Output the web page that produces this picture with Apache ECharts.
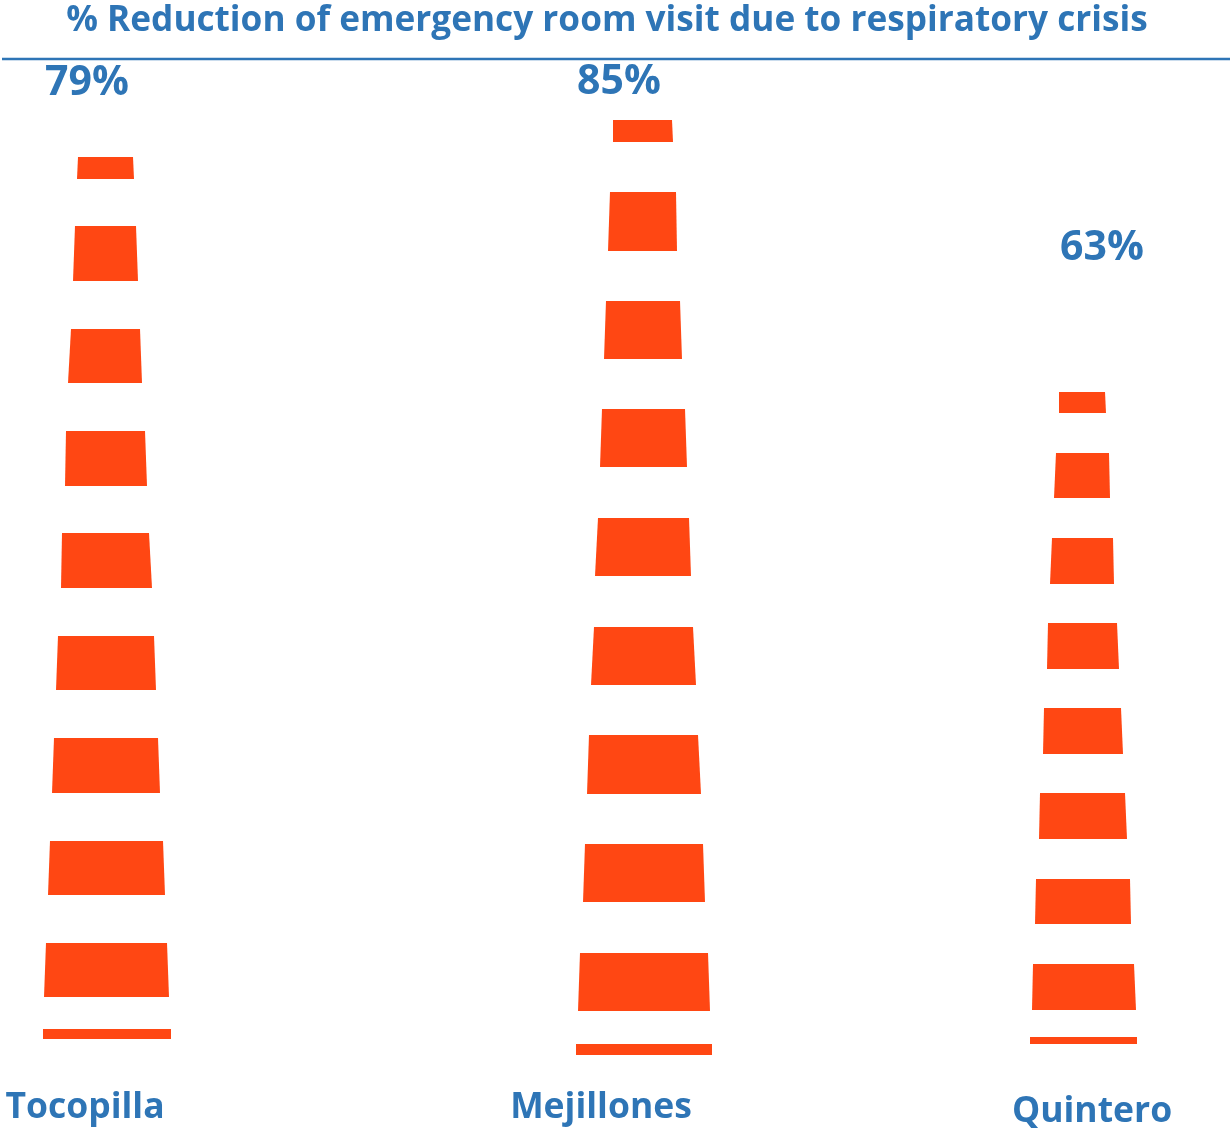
<!DOCTYPE html>
<html>
<head>
<meta charset="utf-8">
<style>html,body{margin:0;padding:0;background:#fff}#c{width:1230px;height:1129px}</style>
<script src="https://cdn.jsdelivr.net/npm/echarts@6/dist/echarts.min.js"></script>
</head>
<body>
<div id="c"></div>
<script>
const titleText = '% Reduction of emergency room visit due to respiratory crisis';
const cities = ['Tocopilla', 'Mejillones', 'Quintero'];
const reductions = [79, 85, 63];

// each band of a cone: [upper level, lower level, upper left, upper right, lower left, lower right]
const tocopillaBands = [
  [157, 179, 78, 133, 77, 134],
  [226, 281, 75, 136, 73, 138],
  [329, 383, 71, 140, 68, 142],
  [431, 486, 66, 145, 65, 147],
  [533, 588, 62, 149, 61, 152],
  [636, 690, 58, 154, 56, 156],
  [738, 793, 54, 158, 52, 160],
  [841, 895, 50, 163, 48, 165],
  [943, 997, 46, 167, 44, 169],
  [1029, 1039, 43, 171, 43, 171]
];
const mejillonesBands = [
  [120, 142, 613, 672, 613, 673],
  [192, 251, 610, 676, 608, 677],
  [301, 359, 606, 680, 604, 682],
  [409, 467, 602, 685, 600, 687],
  [518, 576, 598, 689, 595, 691],
  [627, 685, 594, 693, 591, 696],
  [735, 794, 589, 698, 587, 701],
  [844, 902, 585, 703, 583, 705],
  [953, 1011, 580, 708, 578, 710],
  [1044, 1055, 576, 712, 576, 712]
];
const quinteroBands = [
  [392, 413, 1059, 1105, 1059, 1106],
  [453, 498, 1056, 1109, 1054, 1110],
  [538, 584, 1052, 1113, 1050, 1114],
  [623, 669, 1048, 1117, 1047, 1119],
  [708, 754, 1044, 1121, 1043, 1123],
  [793, 839, 1040, 1125, 1039, 1127],
  [879, 924, 1036, 1130, 1035, 1131],
  [964, 1010, 1033, 1134, 1032, 1136],
  [1037, 1044, 1030, 1137, 1030, 1137]
];

const BLUE = '#2E75B6';
const ORANGE = '#FF4713';
const FONT = '"Open Sans", Lato, sans-serif';
const percentAnchors = [[87, 83], [619, 82], [1102, 248]];
const cityAnchors = [[85, 1108], [601, 1108], [1092, 1112]];

function bandSeries(name, data) {
  return {
    type: 'custom',
    name: name,
    coordinateSystem: 'cartesian2d',
    silent: true,
    encode: { x: [2, 3, 4, 5], y: [0, 1] },
    data: data,
    renderItem: function (params, api) {
      const top = api.value(0), bottom = api.value(1);
      const pts = [
        api.coord([api.value(2), top]),
        api.coord([api.value(3), top]),
        api.coord([api.value(5), bottom]),
        api.coord([api.value(4), bottom])
      ];
      return { type: 'polygon', shape: { points: pts }, style: { fill: ORANGE, stroke: null } };
    }
  };
}

function textEl(text, pos, size) {
  return {
    type: 'text', x: pos[0], y: pos[1],
    style: { text: text, fill: BLUE, font: 'bold ' + size + 'px ' + FONT, textAlign: 'center', textVerticalAlign: 'middle' }
  };
}

const chart = echarts.init(document.getElementById('c'), null, { renderer: 'canvas', width: 1230, height: 1129 });
chart.setOption({
  animation: false,
  backgroundColor: '#fff',
  grid: { left: 0, right: 0, top: 0, bottom: 0 },
  xAxis: { type: 'value', min: 0, max: 1230, show: false },
  yAxis: { type: 'value', min: 0, max: 1129, inverse: true, show: false },
  series: [
    bandSeries(cities[0], tocopillaBands),
    bandSeries(cities[1], mejillonesBands),
    bandSeries(cities[2], quinteroBands)
  ],
  graphic: [
    textEl(titleText, [607, 21], 35.2),
    { type: 'line', shape: { x1: 2, y1: 59, x2: 1230, y2: 59 }, style: { stroke: BLUE, lineWidth: 2.5 } }
  ].concat(
    reductions.map((v, i) => textEl(v + '%', percentAnchors[i], 41)),
    cities.map((c, i) => textEl(c, cityAnchors[i], 35.5))
  )
});
</script>
</body>
</html>
